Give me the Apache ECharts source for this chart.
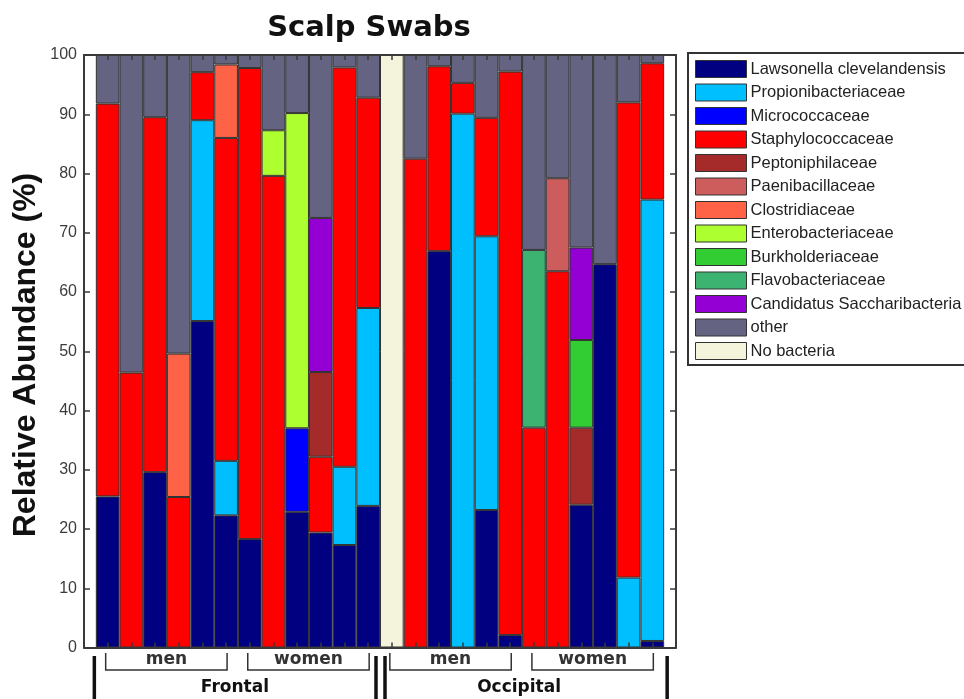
<!DOCTYPE html>
<html>
<head>
<meta charset="utf-8">
<script src="https://cdn.jsdelivr.net/npm/echarts@6/dist/echarts.min.js"></script>
<style>
  html, body { margin: 0; padding: 0; background: #fff; }
  #chart { width: 964px; height: 699px; }
</style>
</head>
<body>
<div id="chart"></div>
<script>
// ---- Data ----
const samples = ['F-M1','F-M2','F-M3','F-M4','F-M5','F-M6','F-W1','F-W2','F-W3','F-W4','F-W5','F-W6',
                 'O-M1','O-M2','O-M3','O-M4','O-M5','O-M6','O-W1','O-W2','O-W3','O-W4','O-W5','O-W6'];

const taxa = ['Lawsonella clevelandensis','Propionibacteriaceae','Micrococcaceae','Staphylococcaceae',
              'Peptoniphilaceae','Paenibacillaceae','Clostridiaceae','Enterobacteriaceae',
              'Burkholderiaceae','Flavobacteriaceae','Candidatus Saccharibacteria','other','No bacteria'];

const lawsonella   = [25.5, 0, 29.6, 0, 55.1, 22.3, 18.3, 0, 22.9, 19.4, 17.3, 23.9,  0, 0, 66.9, 0, 23.2, 2.1, 0, 0, 24.1, 64.7, 0, 1.1];
const propioni     = [0, 0, 0, 0, 33.9, 9.2, 0, 0, 0, 0, 13.2, 33.4,  0, 0, 0, 90.1, 46.2, 0, 0, 0, 0, 0, 11.8, 74.5];
const micrococc    = [0, 0, 0, 0, 0, 0, 0, 0, 14.1, 0, 0, 0,  0, 0, 0, 0, 0, 0, 0, 0, 0, 0, 0, 0];
const staphylo     = [66.3, 46.4, 59.9, 25.4, 8.1, 54.5, 79.5, 79.6, 0, 12.8, 67.4, 35.5,  0, 82.5, 31.2, 5.2, 20.0, 95.1, 37.1, 63.5, 0, 0, 80.2, 23.0];
const peptoni      = [0, 0, 0, 0, 0, 0, 0, 0, 0, 14.3, 0, 0,  0, 0, 0, 0, 0, 0, 0, 0, 13.0, 0, 0, 0];
const paenibac     = [0, 0, 0, 0, 0, 0, 0, 0, 0, 0, 0, 0,  0, 0, 0, 0, 0, 0, 0, 15.7, 0, 0, 0, 0];
const clostri      = [0, 0, 0, 24.2, 0, 12.4, 0, 0, 0, 0, 0, 0,  0, 0, 0, 0, 0, 0, 0, 0, 0, 0, 0, 0];
const enterobac    = [0, 0, 0, 0, 0, 0, 0, 7.7, 53.2, 0, 0, 0,  0, 0, 0, 0, 0, 0, 0, 0, 0, 0, 0, 0];
const burkhold     = [0, 0, 0, 0, 0, 0, 0, 0, 0, 0, 0, 0,  0, 0, 0, 0, 0, 0, 0, 0, 14.8, 0, 0, 0];
const flavobac     = [0, 0, 0, 0, 0, 0, 0, 0, 0, 0, 0, 0,  0, 0, 0, 0, 0, 0, 30.0, 0, 0, 0, 0, 0];
const candidatus   = [0, 0, 0, 0, 0, 0, 0, 0, 0, 26.0, 0, 0,  0, 0, 0, 0, 0, 0, 0, 0, 15.6, 0, 0, 0];
const other        = [8.2, 53.6, 10.5, 50.4, 2.9, 1.6, 2.2, 12.7, 9.8, 27.5, 2.1, 7.2,  0, 17.5, 1.9, 4.7, 10.6, 2.8, 32.9, 20.8, 32.5, 35.3, 8.0, 1.4];
const noBacteria   = [0, 0, 0, 0, 0, 0, 0, 0, 0, 0, 0, 0,  100, 0, 0, 0, 0, 0, 0, 0, 0, 0, 0, 0];

const yTicks = [0, 10, 20, 30, 40, 50, 60, 70, 80, 90, 100];

const subGroups = [
  { label: 'men',   from: 'F-M1', to: 'F-M6' },
  { label: 'women', from: 'F-W1', to: 'F-W6' },
  { label: 'men',   from: 'O-M1', to: 'O-M6' },
  { label: 'women', from: 'O-W1', to: 'O-W6' }
];
const regions = [
  { label: 'Frontal',   from: 'F-M1', to: 'F-W6' },
  { label: 'Occipital', from: 'O-M1', to: 'O-W6' }
];

// ---- Styles ----
const colors = ['#000080','#00BFFF','#0000FF','#FF0000','#A52A2A','#CD5C5C','#FF6347',
                '#ADFF2F','#32CD32','#3CB371','#9400D3','#646482','#F4F3DC'];
const seriesValues = [lawsonella, propioni, micrococc, staphylo, peptoni, paenibac, clostri,
                      enterobac, burkhold, flavobac, candidatus, other, noBacteria];

const xCats = [''].concat(samples).concat(['']);   // blank ends give the x-limits [0, 25]
const AX = '#3a3a3a';
const FONT = "'Liberation Sans', Arial, sans-serif";

const series = taxa.map((name, i) => ({
  name: name,
  type: 'bar',
  stack: 'total',
  barCategoryGap: '0%',
  itemStyle: { color: colors[i], borderColor: '#333', borderWidth: 1 },
  emphasis: { disabled: true },
  data: ['-'].concat(seriesValues[i].map(v => (v > 0 ? v : '-'))).concat(['-'])
}));

const chart = echarts.init(document.getElementById('chart'), null, { renderer: 'canvas' });

const option = {
  animation: false,
  backgroundColor: '#ffffff',
  grid: { left: 84, right: 288, top: 55, bottom: 51.5, containLabel: false },
  legend: {
    orient: 'vertical',
    left: 688, top: 53,
    padding: [7, 60, 5, 7],
    itemWidth: 51, itemHeight: 17, itemGap: 5.5,
    icon: 'rect',
    borderColor: '#333', borderWidth: 2, borderRadius: 0,
    itemStyle: { borderColor: '#333', borderWidth: 1 },
    textStyle: { fontFamily: FONT, fontSize: 16.5, color: '#222', padding: [0, 0, 0, -1] },
    selectedMode: false,
    data: taxa
  },
  xAxis: [
    {
      type: 'category', data: xCats, boundaryGap: false, position: 'bottom', z: 5,
      axisLine: { show: true, onZero: false, lineStyle: { color: AX, width: 2 } },
      axisTick: { show: true, inside: true, length: 5, interval: 0, lineStyle: { color: AX, width: 1.5 } },
      axisLabel: { show: false }, splitLine: { show: false }
    },
    {
      type: 'category', data: xCats, boundaryGap: false, position: 'top', z: 5,
      axisLine: { show: true, onZero: false, lineStyle: { color: AX, width: 2 } },
      axisTick: { show: true, inside: true, length: 5, interval: 0, lineStyle: { color: AX, width: 1.5 } },
      axisLabel: { show: false }, splitLine: { show: false }
    }
  ],
  yAxis: [
    {
      type: 'value', min: yTicks[0], max: yTicks[yTicks.length - 1], interval: 10, position: 'left', z: 5,
      axisLine: { show: true, onZero: false, lineStyle: { color: AX, width: 2 } },
      axisTick: { show: true, inside: true, length: 6, lineStyle: { color: AX, width: 1.5 } },
      axisLabel: { show: true, margin: 7, fontFamily: FONT, fontSize: 16, color: '#3c3c3c' },
      splitLine: { show: false }
    },
    {
      type: 'value', min: yTicks[0], max: yTicks[yTicks.length - 1], interval: 10, position: 'right', z: 5,
      axisLine: { show: true, onZero: false, lineStyle: { color: AX, width: 2 } },
      axisTick: { show: true, inside: true, length: 6, lineStyle: { color: AX, width: 1.5 } },
      axisLabel: { show: false }, splitLine: { show: false }
    }
  ],
  series: series
};
chart.setOption(option);

// ---- Annotations (positions derived from the axis scale) ----
function px(cat) { return chart.convertToPixel({ xAxisIndex: 0 }, cat); }
const step = px(samples[1]) - px(samples[0]);
const elements = [];

elements.push({
  type: 'text',
  style: { text: 'Scalp Swabs', x: 369, y: 28, align: 'center', verticalAlign: 'middle',
           font: "bold 29px 'DejaVu Sans', sans-serif", fill: '#111' }
});
elements.push({
  type: 'text', x: 26, y: 355, rotation: Math.PI / 2,
  style: { text: 'Relative Abundance (%)', x: 0, y: 0, align: 'center', verticalAlign: 'middle',
           font: "bold 32px 'Liberation Sans', Arial, sans-serif", fill: '#111' }
});

subGroups.forEach(g => {
  const x1 = px(g.from) - 2, x2 = px(g.to) + 1;
  elements.push({
    type: 'polyline',
    shape: { points: [[x1, 653], [x1, 670], [x2, 670], [x2, 653]] },
    style: { stroke: '#333', lineWidth: 1.5, fill: null }
  });
  elements.push({
    type: 'text',
    style: { text: g.label, x: (x1 + x2) / 2, y: 660, align: 'center', verticalAlign: 'middle',
             font: "bold 17px 'DejaVu Sans', sans-serif", fill: '#333' }
  });
});

regions.forEach(r => {
  const left = px(r.from) - step / 2, right = px(r.to) + step / 2;
  elements.push({
    type: 'text',
    style: { text: r.label, x: (left + right) / 2 - 3, y: 688, align: 'center', verticalAlign: 'middle',
             font: "bold 17px 'DejaVu Sans', sans-serif", fill: '#111' }
  });
});
const bound0 = px(samples[0]) - step / 2 - 1.5;
const boundMid = (px(samples[11]) + px(samples[12])) / 2;
const boundEnd = px(samples[23]) + step / 2 + 3;
[bound0, boundMid - 4, boundMid + 5, boundEnd].forEach(x => {
  elements.push({
    type: 'line', shape: { x1: x, y1: 656, x2: x, y2: 699 },
    style: { stroke: '#111', lineWidth: 3.5 }
  });
});

chart.setOption({ graphic: { elements: elements } });
</script>
</body>
</html>
